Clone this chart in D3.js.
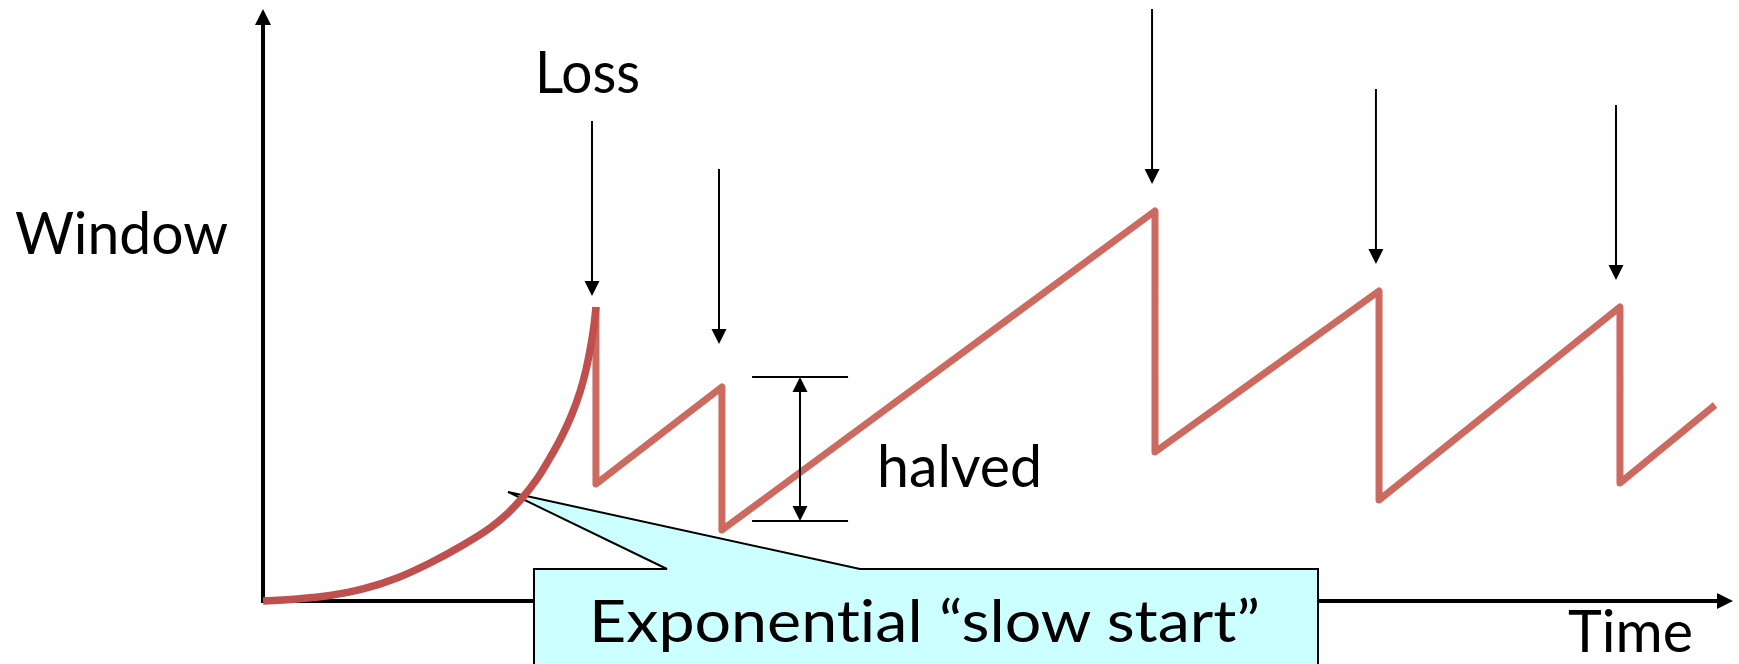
<!DOCTYPE html>
<html>
<head>
<meta charset="utf-8">
<script src="https://cdn.jsdelivr.net/npm/d3@7"></script>
<style>
  html, body { margin: 0; padding: 0; background: #ffffff; overflow: hidden; }
  svg { display: block; }
  text { font-family: Lato, "Noto Sans", sans-serif; fill: #000; font-variant-ligatures: none; font-feature-settings: "liga" 0, "clig" 0; }
</style>
</head>
<body>
<svg id="chart" width="1739" height="664"></svg>
<script>
// ---- data (time and window in arbitrary units) ----
const slowStartTime   = [0, 2.31, 4.56, 6.80, 9.12, 11.36, 13.61, 15.44, 16.60, 17.69, 18.64, 19.52, 20.34, 21.02, 21.56, 21.97, 22.31, 22.52, 22.65];
const slowStartWindow = [0, 0.34, 0.93, 2.03, 3.89, 6.42, 9.46, 12.33, 14.70, 17.57, 20.61, 24.16, 27.87, 31.59, 35.30, 39.02, 43.24, 46.62, 49.66];

const sawTime   = [22.65, 22.65, 31.22, 31.22, 60.68, 60.68, 75.92, 75.92, 92.31, 92.31, 98.78];
const sawWindow = [49.66, 19.76, 36.15, 11.99, 65.88, 25.17, 52.36, 17.06, 49.66, 19.93, 33.11];

const lossTime      = [22.38, 31.02, 60.48, 75.71, 92.04];
const lossArrowTop  = [81.08, 72.97, 100.0, 86.49, 83.78];
const lossArrowTip  = [51.52, 43.41, 70.44, 56.93, 54.22];

const halvedTime   = [36.53];
const halvedSpan   = [33.27, 39.80];
const halvedLevels = [37.84, 13.51];

const calloutTip = [16.67, 18.41];

const axisLabels = ["Window", "Time"];
const lossLabel = "Loss";
const halvedLabel = "halved";
const calloutLabel = "Exponential \u201Cslow start\u201D";

// ---- scales ----
const x = d3.scaleLinear().domain([0, 100]).range([263, 1733]);
const y = d3.scaleLinear().domain([0, 100]).range([601, 9]);

const svg = d3.select("#chart");
svg.append("rect").attr("width", 1739).attr("height", 664).attr("fill", "#fff");

function arrowHead(g, tx, ty, dir, len, wid) {
  let pts;
  if (dir === "up") pts = [[tx, ty], [tx - wid / 2, ty + len], [tx + wid / 2, ty + len]];
  else if (dir === "down") pts = [[tx, ty], [tx - wid / 2, ty - len], [tx + wid / 2, ty - len]];
  else pts = [[tx, ty], [tx - len, ty - wid / 2], [tx - len, ty + wid / 2]];
  g.append("path").attr("d", "M" + pts.map(p => p.join(",")).join("L") + "Z").attr("fill", "#000");
}

// ---- axes ----
const axes = svg.append("g");
axes.append("line")
  .attr("x1", x(0)).attr("y1", y(0) + 2).attr("x2", x(0)).attr("y2", y(100) + 14)
  .attr("stroke", "#000").attr("stroke-width", 4);
arrowHead(axes, x(0), y(100), "up", 16, 16);
axes.append("line")
  .attr("x1", x(0) - 2).attr("y1", y(0)).attr("x2", x(100) - 14).attr("y2", y(0))
  .attr("stroke", "#000").attr("stroke-width", 4);
arrowHead(axes, x(100), y(0), "right", 16, 16);

// ---- callout ----
const boxL = 534, boxR = 1318, boxT = 569, boxB = 680;
const wedgeL = 667, wedgeR = 860;
const callout = svg.append("g");
callout.append("path")
  .attr("d", `M${boxL},${boxB} L${boxL},${boxT} L${wedgeL},${boxT} L${x(calloutTip[0])},${y(calloutTip[1])} L${wedgeR},${boxT} L${boxR},${boxT} L${boxR},${boxB} Z`)
  .attr("fill", "#ccffff").attr("stroke", "#000").attr("stroke-width", 2).attr("stroke-linejoin", "miter");
callout.append("text")
  .attr("x", 589).attr("y", 642)
  .attr("font-size", 59)
  .attr("textLength", 671).attr("lengthAdjust", "spacingAndGlyphs")
  .text(calloutLabel);

// ---- window curve ----
const ssData = slowStartTime.map((t, i) => [t, slowStartWindow[i]]);
const sawData = sawTime.map((t, i) => [t, sawWindow[i]]);

svg.append("path")
  .attr("d", d3.line().x(d => x(d[0])).y(d => y(d[1])).curve(d3.curveLinear)(sawData))
  .attr("fill", "none").attr("stroke", "#cd6a5f").attr("stroke-width", 7)
  .attr("stroke-linejoin", "round").attr("stroke-linecap", "butt");

svg.append("path")
  .attr("d", d3.line().x(d => x(d[0])).y(d => y(d[1])).curve(d3.curveCatmullRom.alpha(0.5))(ssData))
  .attr("fill", "none").attr("stroke", "#c0504d").attr("stroke-width", 7.5)
  .attr("stroke-linecap", "butt");

// ---- loss arrows ----
const arrows = svg.append("g");
lossTime.forEach((t, i) => {
  arrows.append("line")
    .attr("x1", x(t)).attr("y1", y(lossArrowTop[i]))
    .attr("x2", x(t)).attr("y2", y(lossArrowTip[i]) - 12)
    .attr("stroke", "#000").attr("stroke-width", 2);
  arrowHead(arrows, x(t), y(lossArrowTip[i]), "down", 15, 15);
});

// ---- halved marker ----
const hv = svg.append("g");
halvedLevels.forEach(lv => {
  hv.append("line")
    .attr("x1", x(halvedSpan[0])).attr("x2", x(halvedSpan[1]))
    .attr("y1", y(lv)).attr("y2", y(lv))
    .attr("stroke", "#000").attr("stroke-width", 2);
});
hv.append("line")
  .attr("x1", x(halvedTime[0])).attr("x2", x(halvedTime[0]))
  .attr("y1", y(halvedLevels[0]) + 12).attr("y2", y(halvedLevels[1]) - 12)
  .attr("stroke", "#000").attr("stroke-width", 2);
arrowHead(hv, x(halvedTime[0]), y(halvedLevels[0]), "up", 15, 15);
arrowHead(hv, x(halvedTime[0]), y(halvedLevels[1]), "down", 15, 15);

// ---- labels ----
svg.append("text").attr("x", 15).attr("y", 254).attr("font-size", 59)
  .attr("textLength", 213).attr("lengthAdjust", "spacingAndGlyphs").text(axisLabels[0]);
svg.append("text").attr("x", 1568).attr("y", 652).attr("font-size", 59)
  .attr("textLength", 125).attr("lengthAdjust", "spacingAndGlyphs").text(axisLabels[1]);
svg.append("text").attr("x", 535).attr("y", 93).attr("font-size", 59)
  .attr("textLength", 105).attr("lengthAdjust", "spacingAndGlyphs").text(lossLabel);
svg.append("text").attr("x", 877).attr("y", 487).attr("font-size", 59)
  .attr("textLength", 165).attr("lengthAdjust", "spacingAndGlyphs").text(halvedLabel);
</script>
</body>
</html>
